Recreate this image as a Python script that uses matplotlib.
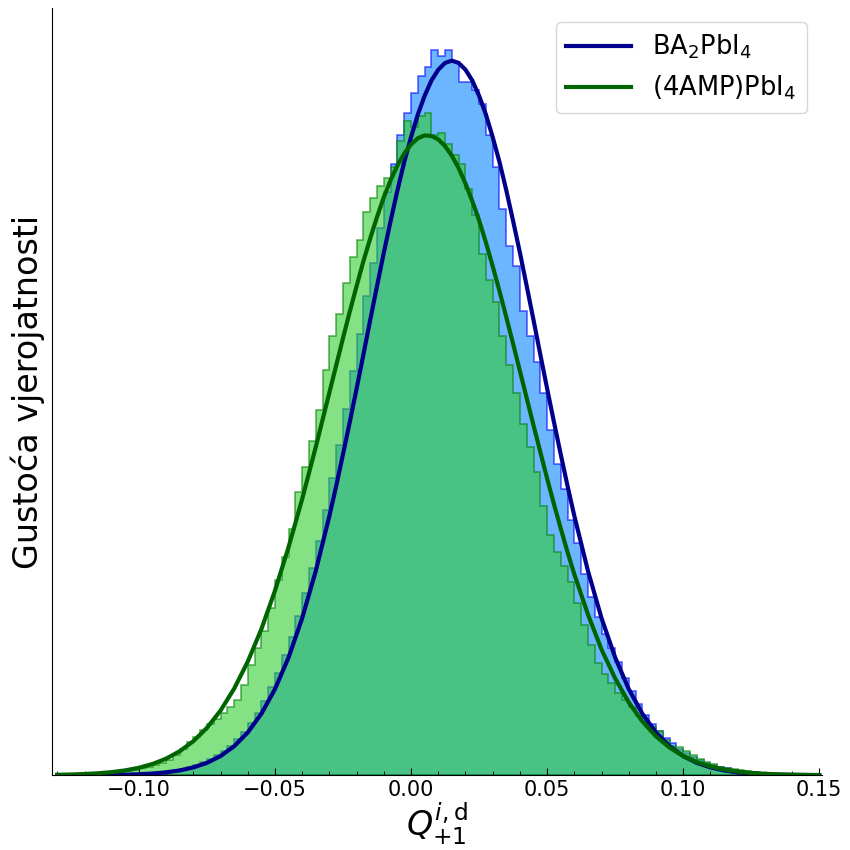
import numpy as np
import matplotlib.pyplot as plt

# histogram bins (density), width 0.0025 from -0.13 to 0.15
bin_edges = np.arange(-0.13, 0.15001, 0.0025)
bin_centers = (bin_edges[:-1] + bin_edges[1:]) / 2

ba_hist = [0.0005, 0.0007, 0.001, 0.0014, 0.002, 0.0027, 0.0037, 0.005, 0.007, 0.0095,
           0.013, 0.017, 0.023, 0.031, 0.040, 0.053, 0.066, 0.088, 0.112, 0.140,
           0.180, 0.226, 0.280, 0.350, 0.425, 0.52, 0.64, 0.77, 0.93, 1.10,
           1.31, 1.56, 1.81, 2.12, 2.44, 2.81, 3.22, 3.66, 4.13, 4.69,
           5.25, 5.84, 6.46, 7.14, 7.79, 8.46, 9.05, 9.67, 10.3, 10.8,
           11.3, 11.7, 12.05, 12.35, 12.5, 12.8, 12.7, 12.8, 12.6, 12.25,
           12.25, 12.1, 11.85, 11.3, 10.75, 10.0, 9.35, 9.0, 8.2, 7.75,
           7.3, 6.75, 6.1, 5.5, 5.05, 4.5, 4.1, 3.55, 3.15, 2.8,
           2.5, 2.25, 2.0, 1.72, 1.48, 1.25, 1.07, 0.90, 0.78, 0.66,
           0.56, 0.47, 0.40, 0.33, 0.27, 0.22, 0.18, 0.15, 0.12, 0.10,
           0.08, 0.065, 0.05, 0.04, 0.03, 0.024, 0.018, 0.013, 0.01, 0.007,
           0.005, 0.004]

amp_hist = [0.005, 0.007, 0.009, 0.012, 0.016, 0.022, 0.03, 0.04, 0.05, 0.065,
            0.08, 0.10, 0.12, 0.15, 0.18, 0.22, 0.27, 0.36, 0.46, 0.58,
            0.68, 0.80, 0.90, 1.00, 1.10, 1.20, 1.32, 1.60, 1.95, 2.25,
            2.55, 2.95, 3.45, 3.85, 4.35, 5.00, 5.45, 5.90, 6.45, 7.15,
            7.75, 8.15, 8.70, 9.15, 9.45, 9.95, 10.2, 10.4, 10.55, 10.75,
            11.2, 11.55, 11.45, 11.65, 11.7, 11.3, 11.35, 11.15, 10.95, 10.8,
            10.35, 9.9, 9.2, 8.75, 8.35, 7.75, 7.25, 6.75, 6.2, 5.80,
            5.35, 4.75, 4.25, 3.95, 3.7, 3.42, 3.05, 2.65, 2.3, 1.98,
            1.78, 1.62, 1.45, 1.33, 1.20, 1.05, 0.95, 0.86, 0.78, 0.62,
            0.52, 0.50, 0.42, 0.35, 0.28, 0.23, 0.19, 0.15, 0.13, 0.11,
            0.09, 0.07, 0.055, 0.045, 0.035, 0.028, 0.022, 0.017, 0.013, 0.01,
            0.008, 0.006]

# fitted curves
fit_x = [-0.13, -0.125, -0.12, -0.115, -0.11, -0.105, -0.10, -0.095, -0.09, -0.085,
         -0.08, -0.075, -0.07, -0.065, -0.06, -0.055, -0.05, -0.045, -0.04, -0.035,
         -0.03, -0.0275, -0.025, -0.0225, -0.02, -0.0175, -0.015, -0.0125, -0.01, -0.0075,
         -0.005, -0.0025, 0.0, 0.0025, 0.005, 0.0075, 0.01, 0.0125, 0.015, 0.0175,
         0.02, 0.0225, 0.025, 0.0275, 0.03, 0.0325, 0.035, 0.0375, 0.04, 0.0425,
         0.045, 0.0475, 0.05, 0.0525, 0.055, 0.0575, 0.06, 0.065, 0.07, 0.075,
         0.08, 0.085, 0.09, 0.095, 0.10, 0.105, 0.11, 0.115, 0.12, 0.125,
         0.13, 0.135, 0.14, 0.145, 0.15]

ba_fit = [0.0003, 0.0007, 0.0014, 0.0027, 0.005, 0.0093, 0.0168, 0.0295, 0.0505, 0.0843,
          0.138, 0.218, 0.338, 0.512, 0.755, 1.086, 1.521, 2.08, 2.774, 3.61,
          4.58, 5.11, 5.67, 6.24, 6.83, 7.43, 8.04, 8.64, 9.23, 9.79,
          10.33, 10.83, 11.27, 11.67, 12.00, 12.27, 12.46, 12.58, 12.62, 12.58,
          12.46, 12.27, 12.00, 11.67, 11.27, 10.83, 10.33, 9.79, 9.23, 8.64,
          8.04, 7.43, 6.83, 6.24, 5.67, 5.11, 4.58, 3.61, 2.774, 2.08,
          1.521, 1.086, 0.755, 0.512, 0.338, 0.218, 0.138, 0.084, 0.050, 0.030,
          0.017, 0.009, 0.005, 0.003, 0.001]

amp_fit = [0.0073, 0.0125, 0.0207, 0.0338, 0.0543, 0.0851, 0.131, 0.198, 0.292, 0.424,
           0.601, 0.837, 1.142, 1.529, 2.007, 2.58, 3.26, 4.03, 4.88, 5.80,
           6.76, 7.24, 7.72, 8.19, 8.64, 9.08, 9.48, 9.86, 10.21, 10.51,
           10.77, 10.98, 11.14, 11.25, 11.30, 11.29, 11.23, 11.11, 10.94, 10.72,
           10.45, 10.14, 9.80, 9.41, 8.99, 8.55, 8.09, 7.62, 7.14, 6.66,
           6.18, 5.71, 5.24, 4.79, 4.36, 3.94, 3.55, 2.84, 2.22, 1.71,
           1.286, 0.950, 0.687, 0.488, 0.339, 0.231, 0.155, 0.101, 0.065, 0.041,
           0.025, 0.015, 0.009, 0.005, 0.003]

labels = ['BA$_2$PbI$_4$', '(4AMP)PbI$_4$']

fig = plt.figure(figsize=(8.5, 8.5), dpi=100)
ax = fig.add_axes([0.061, 0.088, 0.906, 0.9026])

ax.hist(bin_centers, bins=bin_edges, weights=ba_hist, histtype='stepfilled',
        facecolor='#0a84ff', edgecolor='blue', alpha=0.6, lw=1.2)
ax.hist(bin_centers, bins=bin_edges, weights=amp_hist, histtype='stepfilled',
        facecolor='limegreen', edgecolor='green', alpha=0.6, lw=1.2)
ax.plot(fit_x, ba_fit, color='darkblue', lw=3, label=labels[0])
ax.plot(fit_x, amp_fit, color='darkgreen', lw=3, label=labels[1])

ax.set_xlim(-0.132, 0.151)
ax.set_ylim(0, 13.55)
ax.set_yticks([])
ax.set_xticks([-0.10, -0.05, 0.00, 0.05, 0.10, 0.15])
ax.set_xticks(np.arange(-0.13, 0.151, 0.01), minor=True)
ax.tick_params(axis='x', which='major', direction='in', length=5, labelsize=15)
ax.tick_params(axis='x', which='minor', direction='in', length=3)
ax.spines['top'].set_visible(False)
ax.spines['right'].set_visible(False)

ax.set_xlabel(r'$Q^{i,\mathrm{d}}_{+1}$', fontsize=24, labelpad=0)
ax.set_ylabel('Gustoća vjerojatnosti', fontsize=24, labelpad=5)
ax.legend(loc='upper right', fontsize=18.5, handlelength=2.5, handletextpad=0.85,
          bbox_to_anchor=(0.997, 0.998))

plt.savefig('out.png', dpi=100)
